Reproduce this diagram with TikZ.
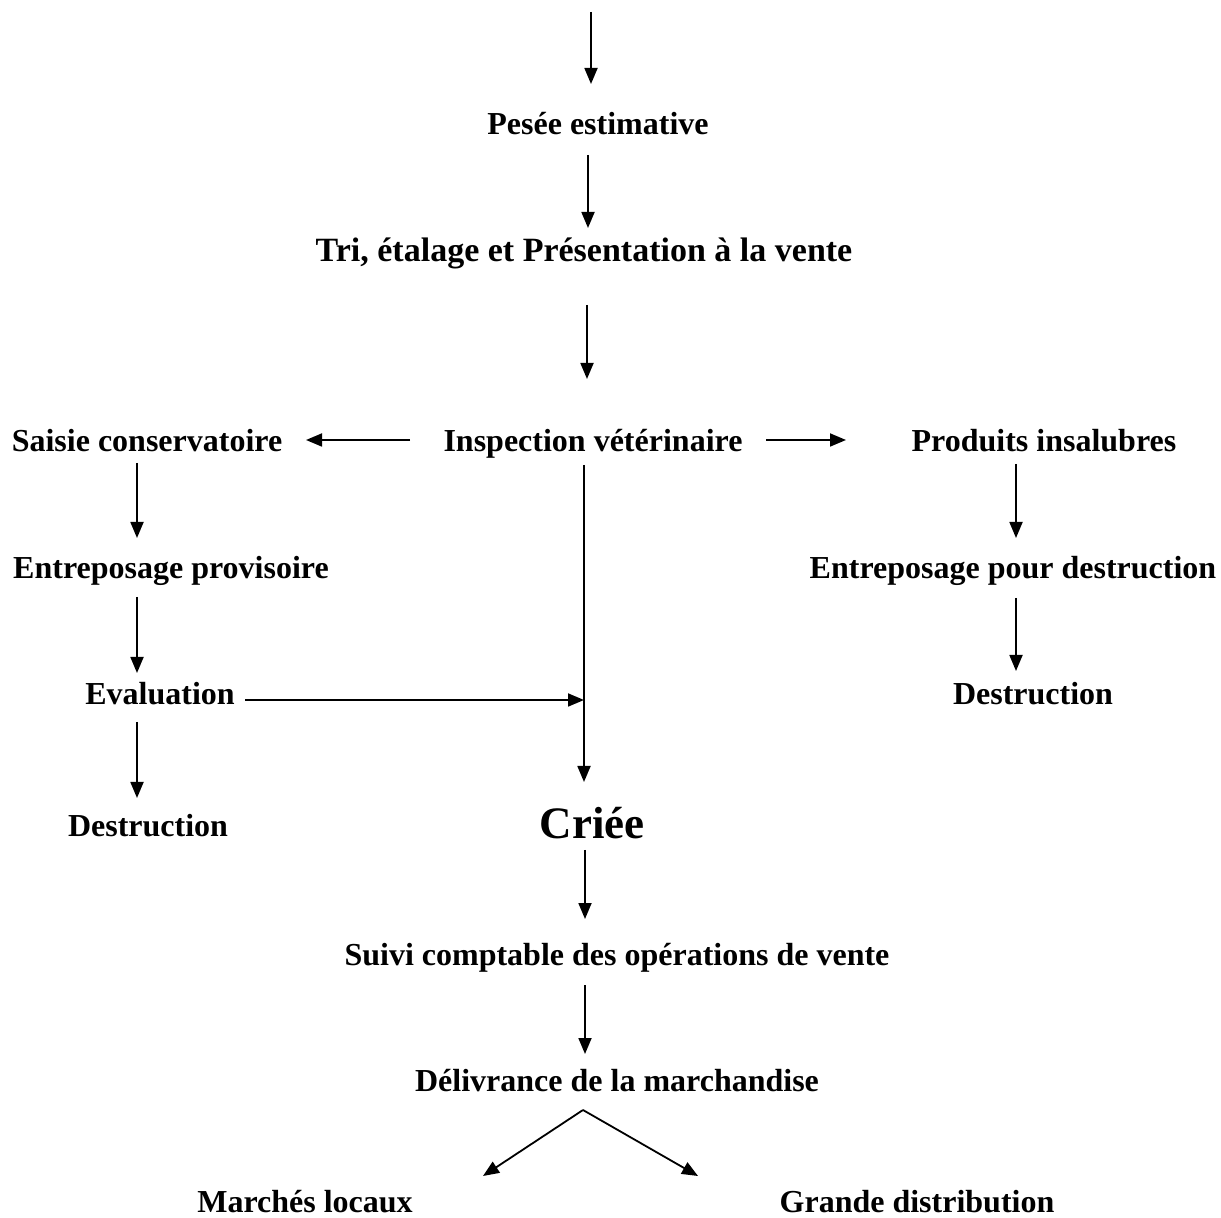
\documentclass[tikz,border=0pt]{standalone}
\usepackage{fontspec}
\setmainfont{Liberation Serif}
\usetikzlibrary{arrows.meta}
\begin{document}
\begin{tikzpicture}[x=0.5pt,y=-0.5pt,
  lbl/.style={font=\bfseries\fontsize{16}{19}\selectfont, inner sep=0pt, text height=0.68em, text depth=0.2em, yshift=-3.3pt},
  wide/.style={lbl, font=\bfseries\fontsize{17}{20}\selectfont},
  big/.style={font=\bfseries\fontsize{22.5}{26}\selectfont, inner sep=0pt, text height=0.68em, text depth=0.2em, yshift=-5.5pt},
  arr/.style={line width=0.9pt, -{Triangle[length=8pt,width=6.5pt]}}]
\useasboundingbox[fill=white] (0,0) rectangle (1221,1218);
% nodes
\node[lbl] (pesee) at (598,123) {Pesée estimative};
\node[wide] (tri) at (584,250) {Tri, étalage et Présentation à la vente};
\node[lbl] (insp) at (593,440) {Inspection vétérinaire};
\node[lbl] (saisie) at (147,440) {Saisie conservatoire};
\node[lbl] (prod) at (1044,440) {Produits insalubres};
\node[lbl] (entprov) at (171,567) {Entreposage provisoire};
\node[lbl] (eval) at (160,693) {Evaluation};
\node[lbl] (destL) at (148,825) {Destruction};
\node[lbl] (entdes) at (1013,567) {Entreposage pour destruction};
\node[lbl] (destR) at (1033,693) {Destruction};
\node[big] (criee) at (592,823) {Criée};
\node[lbl] (suivi) at (617,954) {Suivi comptable des opérations de vente};
\node[lbl] (deliv) at (617,1080) {Délivrance de la marchandise};
\node[lbl] (march) at (305,1201) {Marchés locaux};
\node[lbl] (grande) at (917,1201) {Grande distribution};
% coordinates
\coordinate (top) at (591,12);
\coordinate (a1) at (591,84);
\coordinate (b0) at (588,155);
\coordinate (b1) at (588,228);
\coordinate (c0) at (587,305);
\coordinate (c1) at (587,379);
\coordinate (l0) at (410,440);
\coordinate (l1) at (306,440);
\coordinate (r0) at (766,440);
\coordinate (r1) at (846,440);
\coordinate (v0) at (584,465);
\coordinate (v1) at (584,782);
\coordinate (e0) at (245,700);
\coordinate (e1) at (584,700);
\coordinate (s0) at (137,463);
\coordinate (s1) at (137,538);
\coordinate (p0) at (137,597);
\coordinate (p1) at (137,673);
\coordinate (d0) at (137,722);
\coordinate (d1) at (137,798);
\coordinate (q0) at (1016,464);
\coordinate (q1) at (1016,538);
\coordinate (t0) at (1016,598);
\coordinate (t1) at (1016,671);
\coordinate (k0) at (585,850);
\coordinate (k1) at (585,919);
\coordinate (m0) at (585,985);
\coordinate (m1) at (585,1054);
\coordinate (apex) at (583,1110);
\coordinate (vl) at (483,1176);
\coordinate (vr) at (698,1176);
% connectors
\draw[arr] (top) -- (a1);
\draw[arr] (b0) -- (b1);
\draw[arr] (c0) -- (c1);
\draw[arr] (l0) -- (l1);
\draw[arr] (r0) -- (r1);
\draw[arr] (v0) -- (v1);
\draw[arr] (e0) -- (e1);
\draw[arr] (s0) -- (s1);
\draw[arr] (p0) -- (p1);
\draw[arr] (d0) -- (d1);
\draw[arr] (q0) -- (q1);
\draw[arr] (t0) -- (t1);
\draw[arr] (k0) -- (k1);
\draw[arr] (m0) -- (m1);
\draw[arr] (apex) -- (vl);
\draw[arr] (apex) -- (vr);
\end{tikzpicture}
\end{document}
